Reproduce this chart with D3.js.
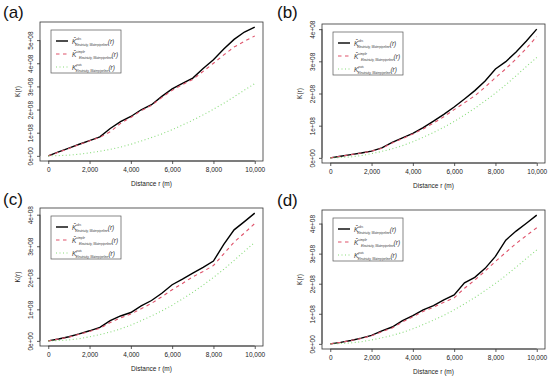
<!DOCTYPE html>
<html>
<head>
<meta charset="utf-8">
<script src="https://cdn.jsdelivr.net/npm/d3@7"></script>
<style>
  html, body { margin: 0; padding: 0; background: #fff; }
  svg { display: block; font-family: "Liberation Sans", Arial, sans-serif; }
</style>
</head>
<body>
<svg id="chart" width="550" height="378"></svg>
<script>
// ---------- DATA (values of K(r) in units of 1e8) ----------
const distances = [0, 500, 1000, 1500, 2000, 2500, 3000, 3500, 4000, 4500, 5000,
                   5500, 6000, 6500, 7000, 7500, 8000, 8500, 9000, 9500, 10000];

const obsA   = [0, 0.17, 0.33, 0.50, 0.66, 0.82, 1.18, 1.48, 1.70, 1.99, 2.21, 2.57, 2.89, 3.13, 3.36, 3.77, 4.15, 4.62, 5.03, 5.35, 5.56];
const simA   = [0, 0.16, 0.32, 0.49, 0.65, 0.80, 1.04, 1.40, 1.66, 1.95, 2.18, 2.52, 2.83, 3.08, 3.30, 3.65, 4.00, 4.36, 4.70, 4.95, 5.18];
const poisA  = [0, 0.01, 0.03, 0.07, 0.13, 0.20, 0.28, 0.38, 0.50, 0.64, 0.79, 0.95, 1.13, 1.33, 1.54, 1.77, 2.01, 2.27, 2.55, 2.84, 3.12];

const obsB   = [0, 0.05, 0.10, 0.15, 0.21, 0.31, 0.48, 0.62, 0.76, 0.94, 1.14, 1.35, 1.58, 1.83, 2.09, 2.39, 2.76, 2.99, 3.29, 3.63, 4.00];
const simB   = [0, 0.05, 0.10, 0.15, 0.21, 0.30, 0.46, 0.60, 0.74, 0.90, 1.08, 1.28, 1.50, 1.71, 1.93, 2.20, 2.49, 2.77, 3.07, 3.40, 3.77];
const poisB  = [0, 0.01, 0.03, 0.07, 0.13, 0.20, 0.28, 0.38, 0.50, 0.64, 0.79, 0.95, 1.13, 1.33, 1.54, 1.77, 2.01, 2.27, 2.55, 2.84, 3.12];

const obsC   = [0, 0.06, 0.13, 0.22, 0.32, 0.43, 0.64, 0.79, 0.90, 1.11, 1.28, 1.51, 1.78, 1.96, 2.15, 2.33, 2.53, 3.06, 3.52, 3.78, 4.05];
const simC   = [0, 0.06, 0.12, 0.21, 0.30, 0.40, 0.58, 0.73, 0.85, 1.02, 1.19, 1.40, 1.62, 1.82, 2.03, 2.20, 2.39, 2.76, 3.13, 3.42, 3.72];
const poisC  = [0, 0.01, 0.03, 0.07, 0.13, 0.20, 0.28, 0.38, 0.50, 0.64, 0.79, 0.95, 1.13, 1.33, 1.54, 1.77, 2.01, 2.27, 2.55, 2.84, 3.12];

const obsD   = [0, 0.05, 0.11, 0.19, 0.28, 0.43, 0.56, 0.77, 0.94, 1.13, 1.27, 1.46, 1.63, 2.03, 2.21, 2.51, 2.91, 3.45, 3.75, 4.01, 4.28];
const simD   = [0, 0.05, 0.11, 0.18, 0.27, 0.40, 0.53, 0.73, 0.90, 1.08, 1.22, 1.38, 1.53, 1.85, 2.12, 2.42, 2.74, 3.04, 3.34, 3.60, 3.86];
const poisD  = [0, 0.01, 0.03, 0.07, 0.13, 0.20, 0.28, 0.38, 0.50, 0.64, 0.79, 0.95, 1.13, 1.33, 1.54, 1.77, 2.01, 2.27, 2.55, 2.84, 3.12];

const panelLabels = ["(a)", "(b)", "(c)", "(d)"];
const xTickValues = [0, 2000, 4000, 6000, 8000, 10000];
const xTickLabels = ["0", "2,000", "4,000", "6,000", "8,000", "10,000"];
const yTickValuesA = [0, 1, 2, 3, 4, 5];
const yTickValuesBCD = [0, 1, 2, 3, 4];
const yTickLabels = ["0e+00", "1e+08", "2e+08", "3e+08", "4e+08", "5e+08"];
const xTitle = "Distance r (m)";
const yTitle = "K(r)";
const legendSup = ["obs", "simple", "pois"];
const legendSub = "Electricity, Waterpipeline";

// ---------- LAYOUT ----------
const layout = [
  { obs: obsA, sim: simA, pois: poisA, yt: yTickValuesA, left: 40,  right: 263, top: 22,  bottom: 161, lx: 3,   ly: 18 },
  { obs: obsB, sim: simB, pois: poisB, yt: yTickValuesBCD, left: 322, right: 545, top: 24,  bottom: 163, lx: 277, ly: 18 },
  { obs: obsC, sim: simC, pois: poisC, yt: yTickValuesBCD, left: 40,  right: 263, top: 208, bottom: 346, lx: 3,   ly: 205 },
  { obs: obsD, sim: simD, pois: poisD, yt: yTickValuesBCD, left: 322, right: 545, top: 210, bottom: 349, lx: 277, ly: 206 }
];

const styles = [
  { key: "obs",  color: "#000000", width: 1.4, dash: null, opacity: 1 },
  { key: "sim",  color: "#DF536B", width: 1.1, dash: "3.5,3.5", opacity: 1 },
  { key: "pois", color: "#61D04F", width: 1.1, dash: "1,2.5", opacity: 0.75 }
];

const svg = d3.select("#chart");

layout.forEach((p, i) => {
  const g = svg.append("g");
  const xPad = (d3.max(distances) - d3.min(distances)) * 0.04;
  const x = d3.scaleLinear()
    .domain([d3.min(distances) - xPad, d3.max(distances) + xPad])
    .range([p.left, p.right]);
  const allY = [].concat(p.obs, p.sim, p.pois);
  const yMin = d3.min(allY), yMax = d3.max(allY);
  const yPad = (yMax - yMin) * 0.04;
  const y = d3.scaleLinear()
    .domain([yMin - yPad, yMax + yPad])
    .range([p.bottom, p.top]);

  // panel label
  g.append("text")
    .attr("x", p.lx).attr("y", p.ly)
    .attr("font-size", 17)
    .attr("fill", "#111")
    .text(panelLabels[i]);

  // lines
  styles.forEach(s => {
    const line = d3.line()
      .x((d, j) => x(distances[j]))
      .y(d => y(d));
    g.append("path")
      .datum(p[s.key])
      .attr("d", line)
      .attr("fill", "none")
      .attr("stroke", s.color)
      .attr("stroke-opacity", s.opacity)
      .attr("stroke-width", s.width)
      .attr("stroke-dasharray", s.dash);
  });

  // box
  g.append("rect")
    .attr("x", p.left).attr("y", p.top)
    .attr("width", p.right - p.left).attr("height", p.bottom - p.top)
    .attr("fill", "none").attr("stroke", "#333").attr("stroke-width", 0.8);

  // x axis
  const xAxis = d3.axisBottom(x)
    .tickValues(xTickValues)
    .tickFormat((d, j) => xTickLabels[j])
    .tickSize(3).tickPadding(3);
  const xg = g.append("g").attr("transform", `translate(0,${p.bottom})`).call(xAxis);
  xg.select(".domain").attr("d", `M${x(xTickValues[0])},0H${x(xTickValues[xTickValues.length - 1])}`)
    .attr("stroke", "#333").attr("stroke-width", 0.8);
  xg.selectAll(".tick line").attr("stroke", "#333").attr("stroke-width", 0.8);
  xg.selectAll(".tick text").attr("font-size", 6.5).attr("fill", "#222")
    .attr("font-family", "Liberation Sans, Arial, sans-serif");

  // y axis
  const yAxis = d3.axisLeft(y)
    .tickValues(p.yt)
    .tickFormat(d => yTickLabels[d])
    .tickSize(3).tickPadding(3);
  const yg = g.append("g").attr("transform", `translate(${p.left},0)`).call(yAxis);
  yg.select(".domain").attr("d", `M0,${y(p.yt[0])}V${y(p.yt[p.yt.length - 1])}`)
    .attr("stroke", "#333").attr("stroke-width", 0.8);
  yg.selectAll(".tick line").attr("stroke", "#333").attr("stroke-width", 0.8);
  yg.selectAll(".tick text")
    .attr("font-size", 6.5).attr("fill", "#222")
    .attr("font-family", "Liberation Sans, Arial, sans-serif")
    .attr("x", null).attr("dy", null)
    .attr("text-anchor", "middle")
    .attr("transform", "translate(-7,0) rotate(-90)")
    .attr("y", 0);

  // axis titles
  g.append("text")
    .attr("x", (p.left + p.right) / 2).attr("y", p.bottom + 25)
    .attr("text-anchor", "middle").attr("font-size", 6.5).attr("fill", "#222")
    .text(xTitle);
  g.append("text")
    .attr("transform", `translate(${p.left - 20},${(p.top + p.bottom) / 2}) rotate(-90)`)
    .attr("text-anchor", "middle").attr("font-size", 6.5).attr("fill", "#222")
    .text(yTitle);

  // legend
  const lgx = p.left + 11, lgy = p.top + 8;
  const lg = g.append("g").attr("transform", `translate(${lgx},${lgy})`);
  lg.append("rect").attr("width", 70).attr("height", 43)
    .attr("fill", "#fff").attr("stroke", "#555").attr("stroke-width", 0.7);
  styles.forEach((s, k) => {
    const ry = 11 + k * 13;
    lg.append("line")
      .attr("x1", 5).attr("x2", 17).attr("y1", ry).attr("y2", ry)
      .attr("stroke", s.color).attr("stroke-width", s.width)
      .attr("stroke-opacity", s.opacity)
      .attr("stroke-dasharray", s.dash);
    const t = lg.append("text").attr("x", 21).attr("y", ry + 2.5)
      .attr("font-size", 6.5).attr("fill", "#333")
      .attr("font-family", "Liberation Sans, Arial, sans-serif")
      .attr("font-style", "italic");
    t.append("tspan").text(k < 2 ? "K\u0302" : "K");
    t.append("tspan").attr("dy", -3.5).attr("font-size", 3).text(legendSup[k]);
    t.append("tspan").attr("dx", -6).attr("dy", 6).attr("font-size", 3).text(legendSub);
    t.append("tspan").attr("dy", -2.5).attr("font-size", 6.5).text("(r)");
  });
});
</script>
</body>
</html>
